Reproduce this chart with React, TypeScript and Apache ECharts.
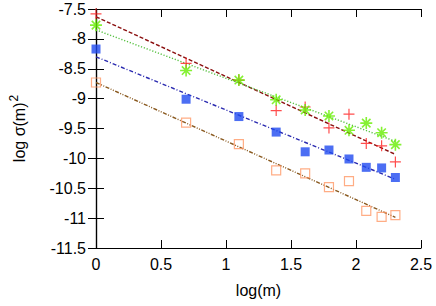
import React, { useEffect, useRef } from "react";
import * as echarts from "echarts";

const logM = [0, 0.693, 1.099, 1.386, 1.609, 1.792, 1.946, 2.079, 2.197, 2.303];
const redPlus = [-7.58, -8.41, -8.69, -9.2, -9.14, -9.49, -9.26, -9.75, -9.79, -10.06];
const greenStar = [-7.77, -8.53, -8.69, -9.02, -9.19, -9.29, -9.53, -9.41, -9.57, -9.77];
const blueSquare = [-8.17, -9.01, -9.3, -9.56, -9.89, -9.86, -10.01, -10.15, -10.16, -10.32];
const orangeSquare = [-8.73, -9.4, -9.76, -10.2, -10.25, -10.48, -10.38, -10.88, -10.98, -10.95];

// fit lines: intercept and slope, drawn over the data's x range
const fitIntercepts = [-7.63, -7.85, -8.3, -8.73];
const fitSlopes = [-1.0, -0.81, -0.89, -0.98];

const xTicks = [0, 0.5, 1, 1.5, 2, 2.5];
const yTicks = [-7.5, -8, -8.5, -9, -9.5, -10, -10.5, -11, -11.5];

const FONT = "'Liberation Sans', Arial, Helvetica, sans-serif";

export default function App() {
  const ref = useRef<HTMLDivElement>(null);
  useEffect(() => {
    if (!ref.current) return;
    const chart = echarts.init(ref.current, null, { renderer: "svg" });
    const pts = (ys: number[]) => logM.map((x, i) => [x, ys[i]]);
    const xMin = logM[0];
    const xMax = logM[logM.length - 1];
    const fitLine = (k: number) => [
      [xMin, fitIntercepts[k] + fitSlopes[k] * xMin],
      [xMax, fitIntercepts[k] + fitSlopes[k] * xMax],
    ];
    const fitStyles = [
      { color: "#8b1010", type: [4, 2] },
      { color: "#55c040", type: [1.2, 1.8] },
      { color: "#2a2ab0", type: [4, 2, 1, 2] },
      { color: "#8a5a20", type: [4, 1.5, 1, 1.5, 1, 1.5] },
    ];
    const axisLine = { show: true, lineStyle: { color: "#000", width: 1.2 } };
    const tick = { show: true, inside: true, length: 8, lineStyle: { color: "#000", width: 1 } };
    const label = { color: "#000", fontSize: 16, fontFamily: FONT };
    chart.setOption({
      animation: false,
      backgroundColor: "#fff",
      grid: { left: 96, right: 15, top: 9, bottom: 58 },
      xAxis: [
        {
          type: "value", min: 0, max: 2.5, interval: 0.5, position: "bottom",
          axisLine, axisTick: tick, splitLine: { show: false },
          axisLabel: { ...label, margin: 8 },
          name: "log(m)", nameLocation: "middle", nameGap: 34,
          nameTextStyle: { ...label },
        },
        {
          type: "value", min: 0, max: 2.5, interval: 0.5, position: "top",
          axisLine, axisTick: tick, splitLine: { show: false }, axisLabel: { show: false },
        },
      ],
      yAxis: [
        {
          type: "value", min: -11.5, max: -7.5, interval: 0.5, position: "left",
          axisLine, axisTick: tick, splitLine: { show: false },
          axisLabel: { ...label, margin: 10 },
          name: "log σ(m){sup|2}", nameLocation: "middle", nameGap: 66,
          nameTextStyle: {
            ...label,
            rich: { sup: { fontSize: 12, fontFamily: FONT, color: "#000", verticalAlign: "top", padding: [0, 0, 10, 1] } },
          },
        },
        {
          type: "value", min: -11.5, max: -7.5, interval: 0.5, position: "right",
          axisLine, axisTick: tick, splitLine: { show: false }, axisLabel: { show: false },
        },
      ],
      series: [
        ...[0, 1, 2, 3].map((k) => ({
          type: "line",
          data: fitLine(k),
          symbol: "none",
          lineStyle: { color: fitStyles[k].color, width: 1.4, type: fitStyles[k].type },
          z: 2,
        })),
        {
          type: "scatter",
          data: pts(redPlus),
          symbol: "path://M0,5H10M5,0V10",
          symbolSize: 11,
          itemStyle: { color: "transparent", borderColor: "#ff2020", borderWidth: 1.2 },
          z: 3,
        },
        {
          type: "scatter",
          data: pts(greenStar),
          symbol: "path://M0,5H10M5,0V10M1.5,1.5L8.5,8.5M8.5,1.5L1.5,8.5",
          symbolSize: 12,
          itemStyle: { color: "transparent", borderColor: "#66ee00", borderWidth: 1.6 },
          z: 3,
        },
        {
          type: "scatter",
          data: pts(blueSquare),
          symbol: "rect",
          symbolSize: 9,
          itemStyle: { color: "#1f4af0", borderWidth: 0 },
          z: 3,
        },
        {
          type: "scatter",
          data: pts(orangeSquare),
          symbol: "rect",
          symbolSize: 9,
          itemStyle: { color: "transparent", borderColor: "#ff9966", borderWidth: 1.2 },
          z: 3,
        },
      ],
    });
    return () => chart.dispose();
  }, []);
  return <div ref={ref} style={{ width: 436, height: 306, position: "absolute", left: 0, top: 0 }} />;
}
